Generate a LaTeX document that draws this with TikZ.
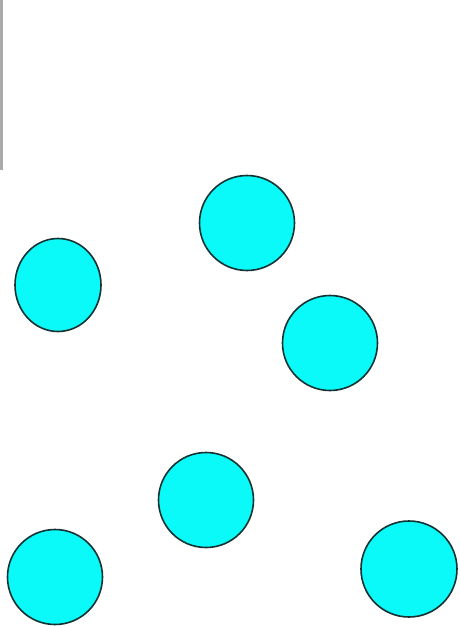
\documentclass[tikz,border=0pt]{standalone}
\definecolor{ball}{RGB}{10,250,250}
\definecolor{rim}{RGB}{20,50,50}
\definecolor{bar}{RGB}{170,170,170}
\tikzset{ballstyle/.style={draw=rim,fill=ball,line width=1.6pt}}
\begin{document}
\begin{tikzpicture}[x=1pt,y=-1pt]
\useasboundingbox (0,0) rectangle (459,626);
\fill[white] (0,0) rectangle (459,626);
\fill[bar] (0,0) rectangle (3,170);
\path[ballstyle] (247,223) circle[radius=47.5];
\path[ballstyle] (58,285) ellipse[x radius=43,y radius=46.5];
\path[ballstyle] (330,343) circle[radius=47.5];
\path[ballstyle] (206,500) circle[radius=47.5];
\path[ballstyle] (55,577) circle[radius=47.5];
\path[ballstyle] (409,569) circle[radius=48];
\end{tikzpicture}
\end{document}
